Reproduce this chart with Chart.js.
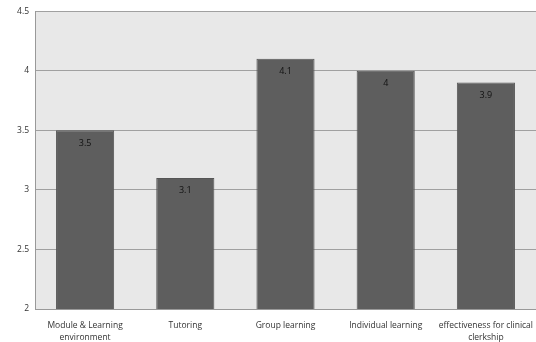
<!DOCTYPE html>
<html><head><meta charset="utf-8">
<script src="https://cdn.jsdelivr.net/npm/chart.js@4.4.1/dist/chart.umd.min.js"></script>
<style>html,body{margin:0;padding:0;background:#fff;}#wrap{width:536px;height:342px;}</style>
</head><body><div id="wrap"><canvas id="c" width="536" height="342"></canvas></div>
<script>
const categories = [["Module & Learning","environment"],"Tutoring","Group learning","Individual learning",["effectiveness for clinical","clerkship"]];
const values = [3.5, 3.1, 4.1, 4.0, 3.9];
const valueLabels = ["3.5","3.1","4.1","4","3.9"];
const yTicks = [2, 2.5, 3, 3.5, 4, 4.5];

const bgPlugin = {
  id: 'bg',
  beforeDraw(chart) {
    const {ctx, chartArea: a} = chart;
    ctx.save();
    ctx.fillStyle = '#e8e8e8';
    ctx.fillRect(a.left, a.top, a.right - a.left, a.bottom - a.top);
    ctx.restore();
  }
};
const labelPlugin = {
  id: 'vals',
  afterDatasetsDraw(chart) {
    const {ctx} = chart;
    const meta = chart.getDatasetMeta(0);
    ctx.save();
    ctx.fillStyle = '#111';
    ctx.font = '9px "Open Sans", sans-serif';
    ctx.textAlign = 'center';
    ctx.textBaseline = 'middle';
    meta.data.forEach((bar, i) => {
      ctx.fillText(valueLabels[i], bar.x, bar.y + 13);
    });
    ctx.restore();
  }
};

new Chart(document.getElementById('c'), {
  type: 'bar',
  data: {
    labels: categories,
    datasets: [{
      data: values,
      backgroundColor: '#5e5e5e',
      borderColor: '#555',
      borderWidth: 1,
      barPercentage: 0.58,
      categoryPercentage: 1.0
    }]
  },
  options: {
    responsive: false,
    animation: false,
    devicePixelRatio: 1,
    layout: {padding: {top: 11, right: 0, left: 0, bottom: 0}},
    plugins: {legend: {display: false}, tooltip: {enabled: false}},
    scales: {
      x: {
        afterFit(s) { s.height = 33; s.paddingRight = 0; s.paddingLeft = 0; },
        grid: {display: false, drawTicks: false},
        border: {color: '#999', width: 1},
        ticks: {color: '#333', font: {family: '"Open Sans", sans-serif', size: 8.5, lineHeight: 1.4}, padding: 11, maxRotation: 0, autoSkip: false}
      },
      y: {
        min: 2, max: 4.5,
        afterFit(s) { s.width = 35; },
        afterBuildTicks(s) { s.ticks = yTicks.map(v => ({value: v})); },
        grid: {color: '#a0a0a0', lineWidth: 1, drawTicks: false},
        border: {color: '#999', width: 1},
        ticks: {color: '#333', font: {family: '"Open Sans", sans-serif', size: 8.5}, padding: 6,
          callback: v => String(v)}
      }
    }
  },
  plugins: [bgPlugin, labelPlugin]
});
</script></body></html>
